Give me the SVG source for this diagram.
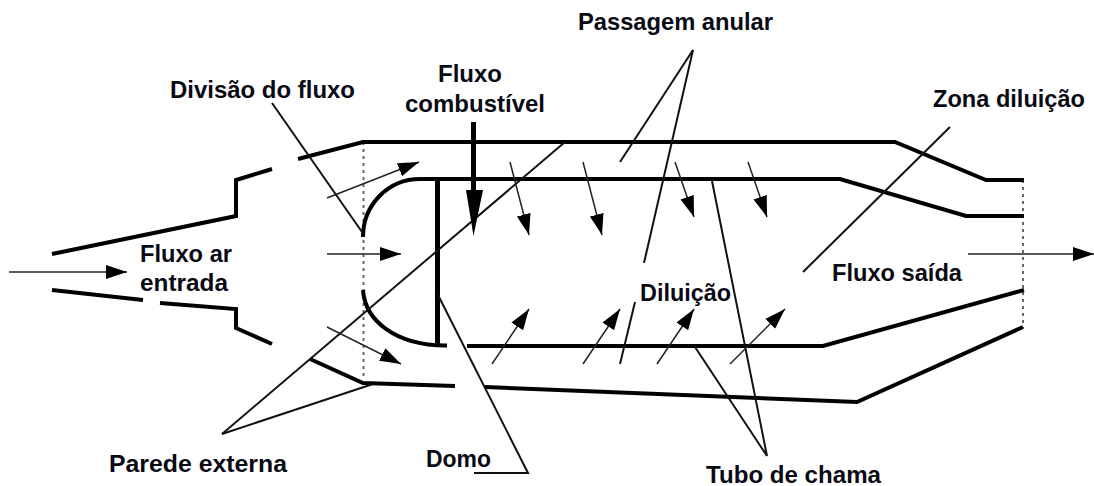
<svg xmlns="http://www.w3.org/2000/svg" width="1094" height="486" viewBox="0 0 1094 486">
<style>
.wall{fill:none;stroke:#000;stroke-width:4;stroke-linejoin:miter;stroke-linecap:butt}
.lead{fill:none;stroke:#111;stroke-width:2}
.flow{fill:none;stroke:#222;stroke-width:1.5;marker-end:url(#head)}
.dot{fill:none;stroke:#666;stroke-width:2;stroke-dasharray:3 4}
text{font-family:"Liberation Sans",Arial,sans-serif;font-weight:700;font-size:23.4px;fill:#0a0a14}
</style>
<defs>
<marker id="head" markerUnits="userSpaceOnUse" markerWidth="22" markerHeight="16" viewBox="0 0 22 16" refX="21" refY="8" orient="auto"><path d="M0,1L21,8L0,15z" fill="#000"/></marker>
</defs>
<rect width="1094" height="486" fill="#fff"/>
<g id="combustor">
<path class="dot" d="M363.500,142V376"/>
<path class="dot" d="M1023,180V328"/>
<path class="wall" d="M52,254L236,216V180L272,169"/>
<path class="wall" d="M52,290L143,300"/>
<path class="wall" d="M160,303L236,309V328L272,344"/>
<path class="wall" d="M298,159L363,142H895L986,180H1024"/>
<path class="wall" d="M363,237C363,205 388,179 420,179H840L966,216H1024"/>
<path class="wall" d="M363,290C365,320 395,346 447,345.500"/>
<path class="wall" d="M467,346H823L1024,290"/>
<path class="wall" d="M310,359L363,383L455,386"/>
<path class="wall" d="M485,387L857,402L1023,327"/>
<path class="wall" style="stroke-width:5" d="M437.500,179V345"/>
</g>
<g id="connectors">
<path class="lead" d="M272,103L362,232"/>
<path class="lead" d="M693,50L620,162"/>
<path class="lead" d="M693,50L644,263"/>
<path class="lead" d="M635,302L620,364"/>
<path class="lead" d="M222,434L565,142"/>
<path class="lead" d="M222,434L373,384"/>
<path class="lead" d="M950,127L803,272"/>
<path class="lead" d="M438,295L528,473H474"/>
<path class="lead" d="M712,181L767,456L695,347"/>
<path class="flow" d="M9,272H127"/>
<path class="flow" d="M327,198L419,162"/>
<path class="flow" d="M327,254H401"/>
<path class="flow" d="M327,327L401,364"/>
<path class="flow" d="M510,162L529,235"/>
<path class="flow" d="M583,162L602,235"/>
<path class="flow" d="M675,162L694,217"/>
<path class="flow" d="M748,162L767,217"/>
<path class="flow" d="M492,364L529,309"/>
<path class="flow" d="M583,364L620,309"/>
<path class="flow" d="M657,364L694,309"/>
<path class="flow" d="M730,364L785,309"/>
<path class="flow" d="M968,254H1094"/>
<path d="M473.500,122V190" fill="none" stroke="#000" stroke-width="5"/>
<path d="M466,190H483L473.500,236z" fill="#000"/>
</g>
<g id="labels">
<text x="578" y="30" textLength="195" lengthAdjust="spacingAndGlyphs">Passagem anular</text>
<text x="170" y="98" textLength="185" lengthAdjust="spacingAndGlyphs">Divisão do fluxo</text>
<text x="438" y="82" textLength="64" lengthAdjust="spacingAndGlyphs">Fluxo</text>
<text x="405" y="112" textLength="140" lengthAdjust="spacingAndGlyphs">combustível</text>
<text x="933" y="107" textLength="152" lengthAdjust="spacingAndGlyphs">Zona diluição</text>
<text x="140" y="262" textLength="92" lengthAdjust="spacingAndGlyphs">Fluxo ar</text>
<text x="140" y="291" textLength="88" lengthAdjust="spacingAndGlyphs">entrada</text>
<text x="832" y="281" textLength="130" lengthAdjust="spacingAndGlyphs">Fluxo saída</text>
<text x="640" y="301" textLength="91" lengthAdjust="spacingAndGlyphs">Diluição</text>
<text x="109" y="472" textLength="178" lengthAdjust="spacingAndGlyphs">Parede externa</text>
<text x="426" y="467" textLength="65" lengthAdjust="spacingAndGlyphs">Domo</text>
<text x="706" y="483" textLength="175" lengthAdjust="spacingAndGlyphs">Tubo de chama</text>
</g>
</svg>
